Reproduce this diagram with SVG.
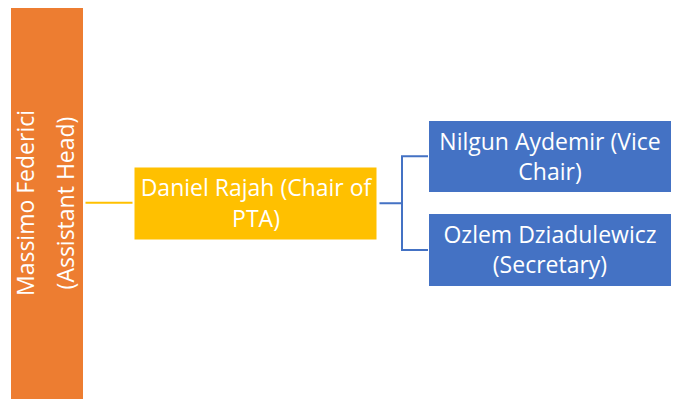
<svg xmlns="http://www.w3.org/2000/svg" width="677" height="405" viewBox="0 0 677 405">
  <style>
    .lbl { font-family: "Open Sans", "Liberation Sans", sans-serif; font-size: 23px; fill: #FFFFFF; text-anchor: middle; }
    .conn { fill: none; stroke-width: 2; }
  </style>
  <rect width="677" height="405" fill="#FFFFFF"/>
  <g id="connectors">
    <path class="conn" stroke="#FFC000" d="M85.5,202.8 H132.5"/>
    <path class="conn" stroke="#4472C4" d="M379.5,203.3 H402 M402,156.3 V250 M401,156.3 H428 M401,250 H428"/>
  </g>
  <g id="node-massimo">
    <rect x="11" y="8" width="72" height="391" fill="#ED7D31"/>
    <text class="lbl" transform="translate(33.5,203) rotate(-90)">Massimo Federici</text>
    <text class="lbl" transform="translate(73.5,203) rotate(-90)">(Assistant Head)</text>
  </g>
  <g id="node-daniel">
    <rect x="134.5" y="167.5" width="242" height="72" fill="#FFC000"/>
    <text class="lbl" x="256" y="196">Daniel Rajah (Chair of</text>
    <text class="lbl" x="256" y="227">PTA)</text>
  </g>
  <g id="node-nilgun">
    <rect x="429" y="121" width="242" height="71" fill="#4472C4"/>
    <text class="lbl" x="550" y="149.5">Nilgun Aydemir (Vice</text>
    <text class="lbl" x="550" y="179.5">Chair)</text>
  </g>
  <g id="node-ozlem">
    <rect x="429" y="214" width="242" height="72" fill="#4472C4"/>
    <text class="lbl" x="550" y="243">Ozlem Dziadulewicz</text>
    <text class="lbl" x="550" y="273">(Secretary)</text>
  </g>
</svg>
